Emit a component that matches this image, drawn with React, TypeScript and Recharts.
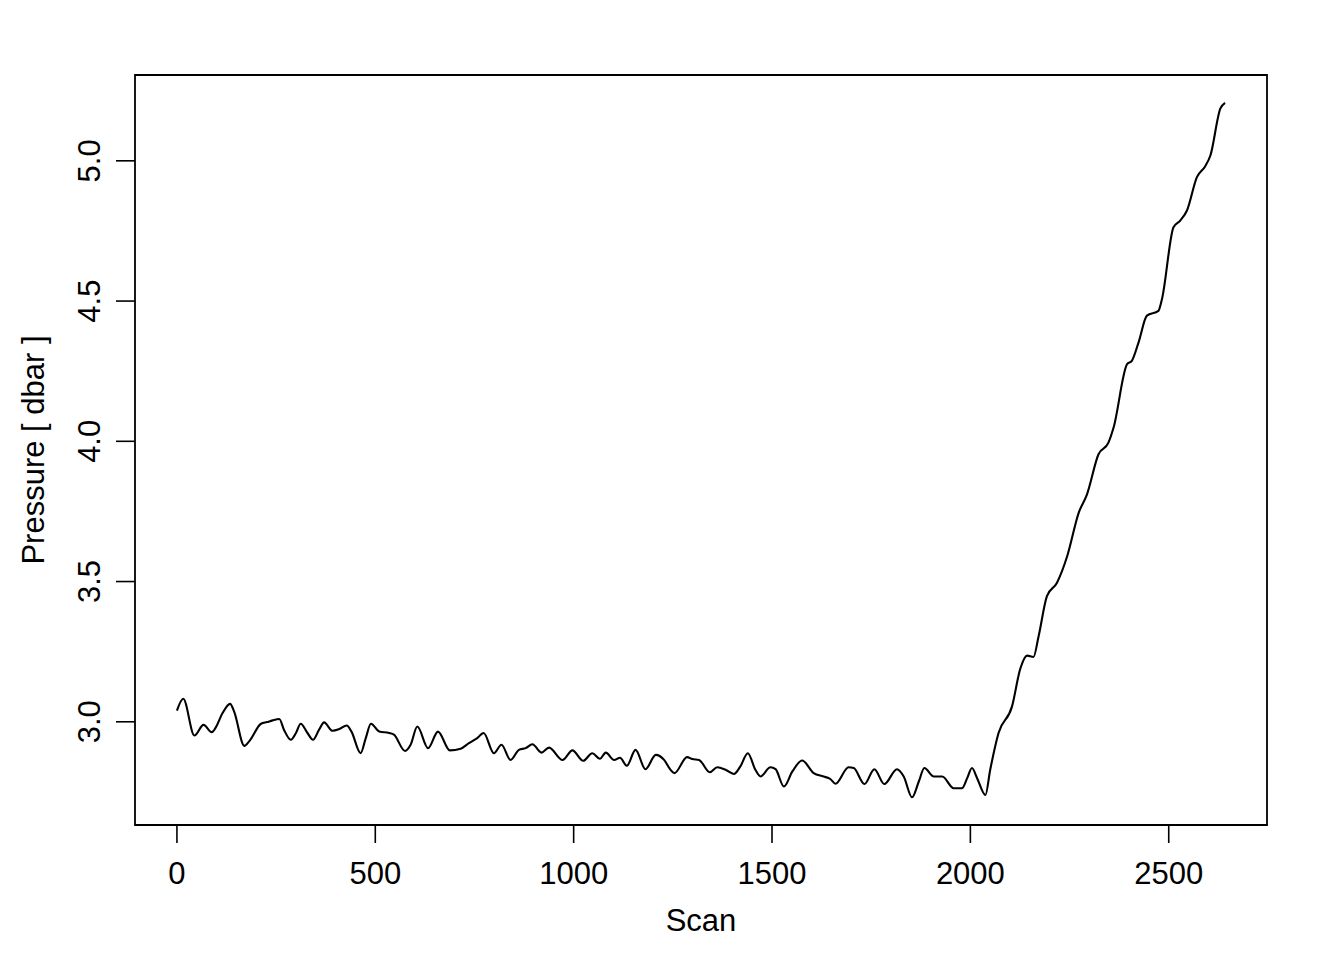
import React from 'react';
import { LineChart, Line, XAxis, YAxis, ReferenceArea } from 'recharts';

// scan index and pressure
const scans = [
  0, 16, 44, 67, 88, 98, 115, 134, 144, 170, 182, 212, 227, 241, 258, 270, 287, 300, 312, 329,
  343, 358, 371, 392, 409, 428, 440, 463, 476, 489, 510, 535, 547, 575, 589, 606, 633, 658, 688, 715,
  736, 757, 773, 799, 818, 841, 862, 879, 896, 919, 938, 972, 997, 1024, 1047, 1066, 1081, 1102, 1117, 1134,
  1156, 1181, 1207, 1228, 1243, 1254, 1286, 1299, 1316, 1343, 1362, 1383, 1404, 1421, 1439, 1458, 1471, 1496, 1509, 1530,
  1551, 1576, 1605, 1630, 1647, 1660, 1693, 1706, 1733, 1758, 1783, 1815, 1832, 1853, 1870, 1884, 1908, 1929, 1958, 1979,
  1992, 2004, 2017, 2038, 2050, 2071, 2105, 2126, 2143, 2159, 2172, 2193, 2218, 2244, 2273, 2294, 2323, 2348, 2361, 2395,
  2407, 2424, 2445, 2474, 2483, 2512, 2529, 2546, 2571, 2592, 2605, 2630, 2642
];

const pressures = [
  3.040, 3.082, 2.951, 2.989, 2.963, 2.980, 3.031, 3.064, 3.037, 2.914, 2.930, 2.993, 2.999, 3.005, 3.010, 2.971, 2.936, 2.960, 2.993, 2.960,
  2.936, 2.971, 2.998, 2.968, 2.974, 2.987, 2.965, 2.888, 2.942, 2.993, 2.965, 2.960, 2.954, 2.896, 2.918, 2.983, 2.906, 2.965, 2.898, 2.904,
  2.924, 2.942, 2.960, 2.888, 2.918, 2.864, 2.900, 2.906, 2.920, 2.890, 2.908, 2.864, 2.898, 2.861, 2.888, 2.868, 2.890, 2.864, 2.872, 2.843,
  2.900, 2.831, 2.882, 2.864, 2.831, 2.817, 2.874, 2.867, 2.864, 2.820, 2.838, 2.829, 2.814, 2.843, 2.888, 2.829, 2.805, 2.838, 2.831, 2.769,
  2.822, 2.862, 2.817, 2.805, 2.796, 2.779, 2.838, 2.835, 2.778, 2.831, 2.778, 2.831, 2.805, 2.731, 2.787, 2.835, 2.805, 2.805, 2.763, 2.763,
  2.799, 2.835, 2.799, 2.739, 2.829, 2.960, 3.055, 3.190, 3.236, 3.231, 3.305, 3.448, 3.495, 3.590, 3.745, 3.811, 3.954, 3.995, 4.049, 4.275,
  4.287, 4.353, 4.448, 4.465, 4.507, 4.763, 4.787, 4.823, 4.942, 4.981, 5.019, 5.186, 5.207
];

const xTicks = [0, 500, 1000, 1500, 2000, 2500];
const yTicks = [3.0, 3.5, 4.0, 4.5, 5.0];

// R-style 4% padding around the data range
const xDomain: [number, number] = [-105.7, 2747.7];
const yDomain: [number, number] = [2.632, 5.306];

const data = scans.map((s, i) => ({ scan: s, pressure: pressures[i] }));

const FONT = '"Liberation Sans", Arial, Helvetica, sans-serif';

// tick labels placed from the tick's own coordinate, R style
const YTick = (props: any) => {
  const { y, payload } = props;
  const x = 100;
  return (
    <g>
      <line x1={116} y1={y} x2={135} y2={y} stroke="#000" strokeWidth={1.6} />
      <text
        x={x}
        y={y}
        transform={`rotate(-90 ${x} ${y})`}
        textAnchor="middle"
        fontSize={31}
        fontFamily={FONT}
        fill="#000"
      >
        {Number(payload.value).toFixed(1)}
      </text>
    </g>
  );
};

const XTick = (props: any) => {
  const { x, payload } = props;
  return (
    <g>
      <line x1={x} y1={825} x2={x} y2={843} stroke="#000" strokeWidth={1.6} />
      <text x={x} y={884} textAnchor="middle" fontSize={31} fontFamily={FONT} fill="#000">
        {payload.value}
      </text>
    </g>
  );
};

export default function App() {
  return (
    <div style={{ position: 'absolute', left: 0, top: 0, width: 1344, height: 960, background: '#fff' }}>
      <LineChart
        width={1344}
        height={960}
        data={data}
        margin={{ top: 75, right: 77, bottom: 0, left: 0 }}
      >
        <XAxis
          dataKey="scan"
          type="number"
          domain={xDomain}
          ticks={xTicks}
          allowDataOverflow
          height={135}
          axisLine={false}
          tickLine={false}
          tick={<XTick />}
          interval={0}
        />
        <YAxis
          type="number"
          domain={yDomain}
          ticks={yTicks}
          allowDataOverflow
          width={135}
          axisLine={false}
          tickLine={false}
          tick={<YTick />}
          interval={0}
        />
        <ReferenceArea
          x1={xDomain[0]}
          x2={xDomain[1]}
          y1={yDomain[0]}
          y2={yDomain[1]}
          fill="none"
          fillOpacity={0}
          stroke="#000"
          strokeWidth={1.8}
          ifOverflow="visible"
        />
        <Line
          type="monotone"
          dataKey="pressure"
          stroke="#000"
          strokeWidth={2.1}
          dot={false}
          isAnimationActive={false}
        />
        <text x={701} y={931} textAnchor="middle" fontSize={31} fontFamily={FONT} fill="#000">
          Scan
        </text>
        <text
          x={44}
          y={450}
          transform="rotate(-90 44 450)"
          textAnchor="middle"
          fontSize={31}
          fontFamily={FONT}
          fill="#000"
        >
          Pressure [ dbar ]
        </text>
      </LineChart>
    </div>
  );
}
